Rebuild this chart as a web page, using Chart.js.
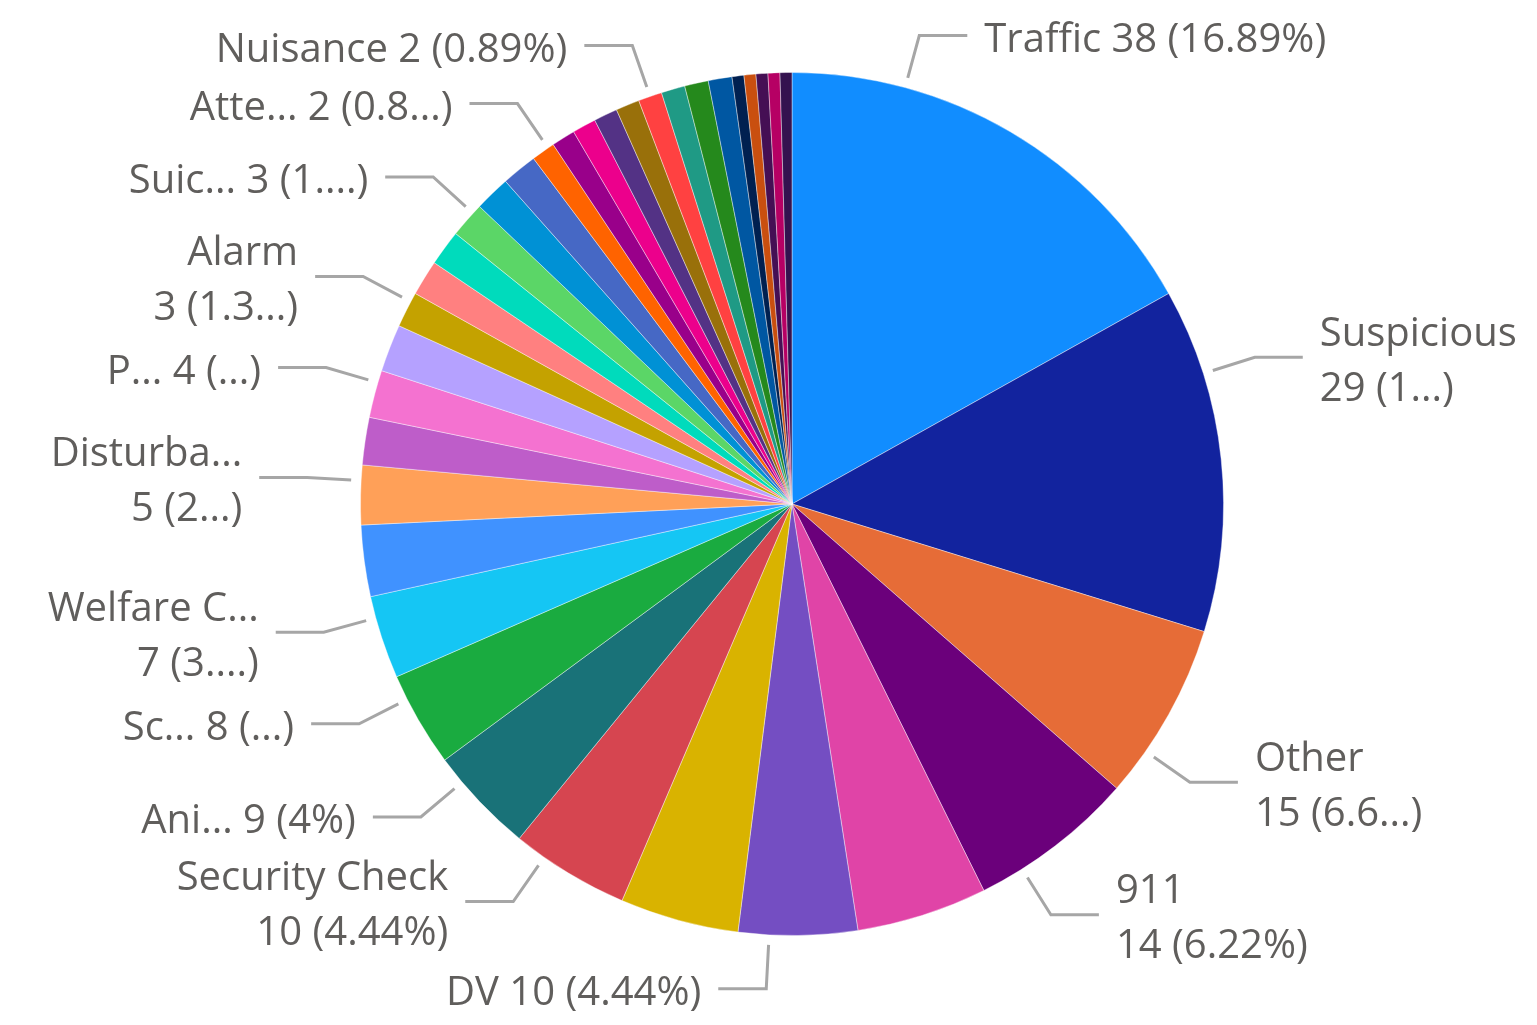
<!DOCTYPE html>
<html>
<head>
<meta charset="utf-8">
<script src="https://cdn.jsdelivr.net/npm/chart.js@4/dist/chart.umd.min.js"></script>
<style>
  html, body { margin: 0; padding: 0; background: #ffffff; }
  canvas { display: block; }
</style>
</head>
<body>
<canvas id="c" width="1537" height="1025"></canvas>
<script>
// ---- data ----
const categories = [
  "Traffic", "Suspicious", "Other", "911", "Type 05", "DV", "Type 07", "Security Check",
  "Ani...", "Sc...", "Welfare C...", "Type 12", "Disturba...", "Type 14", "P...", "Type 16",
  "Alarm", "Type 18", "Type 19", "Suic...", "Type 21", "Type 22", "Atte...", "Type 24",
  "Type 25", "Type 26", "Type 27", "Nuisance", "Type 29", "Type 30", "Type 31", "Type 32",
  "Type 33", "Type 34", "Type 35", "Type 36"
];
const counts = [
  38, 29, 15, 14, 11, 10, 10, 10,
  9, 8, 7, 6, 5, 4, 4, 4,
  3, 3, 3, 3, 3, 3, 2, 2,
  2, 2, 2, 2, 2, 2, 2, 1,
  1, 1, 1, 1
];
// data label text as shown (null = no label shown)
const labelLines = [
  ["Traffic 38 (16.89%)"], ["Suspicious", "29 (1...)"], ["Other", "15 (6.6...)"], ["911", "14 (6.22%)"],
  null, ["DV 10 (4.44%)"], null, ["Security Check", "10 (4.44%)"],
  ["Ani... 9 (4%)"], ["Sc... 8 (...)"], ["Welfare C...", "7 (3....)"], null,
  ["Disturba...", "5 (2...)"], null, ["P... 4 (...)"], null,
  ["Alarm", "3 (1.3...)"], null, null, ["Suic... 3 (1....)"],
  null, null, ["Atte... 2 (0.8...)"], null,
  null, null, null, ["Nuisance 2 (0.89%)"],
  null, null, null, null, null, null, null, null
];

// ---- styles ----
const colors = [
  "#118DFF", "#12239E", "#E66C37", "#6B007B", "#E044A7", "#744EC2", "#D9B300", "#D64550",
  "#197278", "#1AAB40", "#15C6F4", "#4092FF", "#FFA058", "#BE5DC9", "#F472D0", "#B5A1FF",
  "#C4A200", "#FF8080", "#00DBBC", "#5BD667", "#0091D5", "#4668C5", "#FF6300", "#99008A",
  "#EC008C", "#533285", "#99700A", "#FF4141", "#1F9A85", "#25891C", "#0057A2", "#002050",
  "#C94F0F", "#450F54", "#B60064", "#34124F"
];
// where along each slice the leader line attaches (fraction of the slice's sweep)
const anchorFraction = {0: 0.25, 1: 0.25, 27: 0.5};
const defaultAnchorFraction = 0.74;

const FONT_SIZE = 40;
const FONT = FONT_SIZE + 'px "Segoe UI", "Open Sans", "Noto Sans", sans-serif';
const TEXT_COLOR = '#605E5C';
const LINE_COLOR = '#A6A6A6';
const LINE_HEIGHT = 55;

const leaderPlugin = {
  id: 'leaderLabels',
  afterDatasetsDraw(chart) {
    const ctx = chart.ctx;
    const meta = chart.getDatasetMeta(0);
    ctx.save();
    ctx.font = FONT;
    meta.data.forEach((arc, i) => {
      const lines = labelLines[i];
      if (!lines) return;
      const p = arc.getProps(['x', 'y', 'startAngle', 'endAngle', 'outerRadius'], true);
      const f = (i in anchorFraction) ? anchorFraction[i] : defaultAnchorFraction;
      const a = p.startAngle + f * (p.endAngle - p.startAngle);
      const cos = Math.cos(a), sin = Math.sin(a);
      const r0 = p.outerRadius + 10, r1 = p.outerRadius + 54;
      const x0 = p.x + cos * r0, y0 = p.y + sin * r0;
      const x1 = p.x + cos * r1, y1 = p.y + sin * r1;
      const right = cos >= 0;
      const x2 = x1 + (right ? 48 : -48);
      ctx.beginPath();
      ctx.moveTo(x0, y0);
      ctx.lineTo(x1, y1);
      ctx.lineTo(x2, y1);
      ctx.strokeStyle = LINE_COLOR;
      ctx.lineWidth = 3;
      ctx.lineJoin = 'miter';
      ctx.lineCap = 'butt';
      ctx.stroke();
      ctx.fillStyle = TEXT_COLOR;
      ctx.textAlign = right ? 'left' : 'right';
      ctx.textBaseline = 'alphabetic';
      const tx = x2 + (right ? 17 : -17);
      const n = lines.length;
      lines.forEach((t, k) => {
        const cy = y1 + 2 + (k - (n - 1) / 2) * LINE_HEIGHT;
        ctx.fillText(t, tx, cy + 0.357 * FONT_SIZE);
      });
    });
    ctx.restore();
  }
};

new Chart(document.getElementById('c'), {
  type: 'pie',
  data: {
    labels: categories,
    datasets: [{
      data: counts,
      backgroundColor: colors,
      borderColor: 'rgba(255,255,255,0.4)',
      borderWidth: 1
    }]
  },
  options: {
    responsive: false,
    devicePixelRatio: 1,
    animation: false,
    layout: { padding: { left: 360, right: 313, top: 72, bottom: 89 } },
    plugins: {
      legend: { display: false },
      tooltip: { enabled: false }
    }
  },
  plugins: [leaderPlugin]
});
</script>
</body>
</html>
